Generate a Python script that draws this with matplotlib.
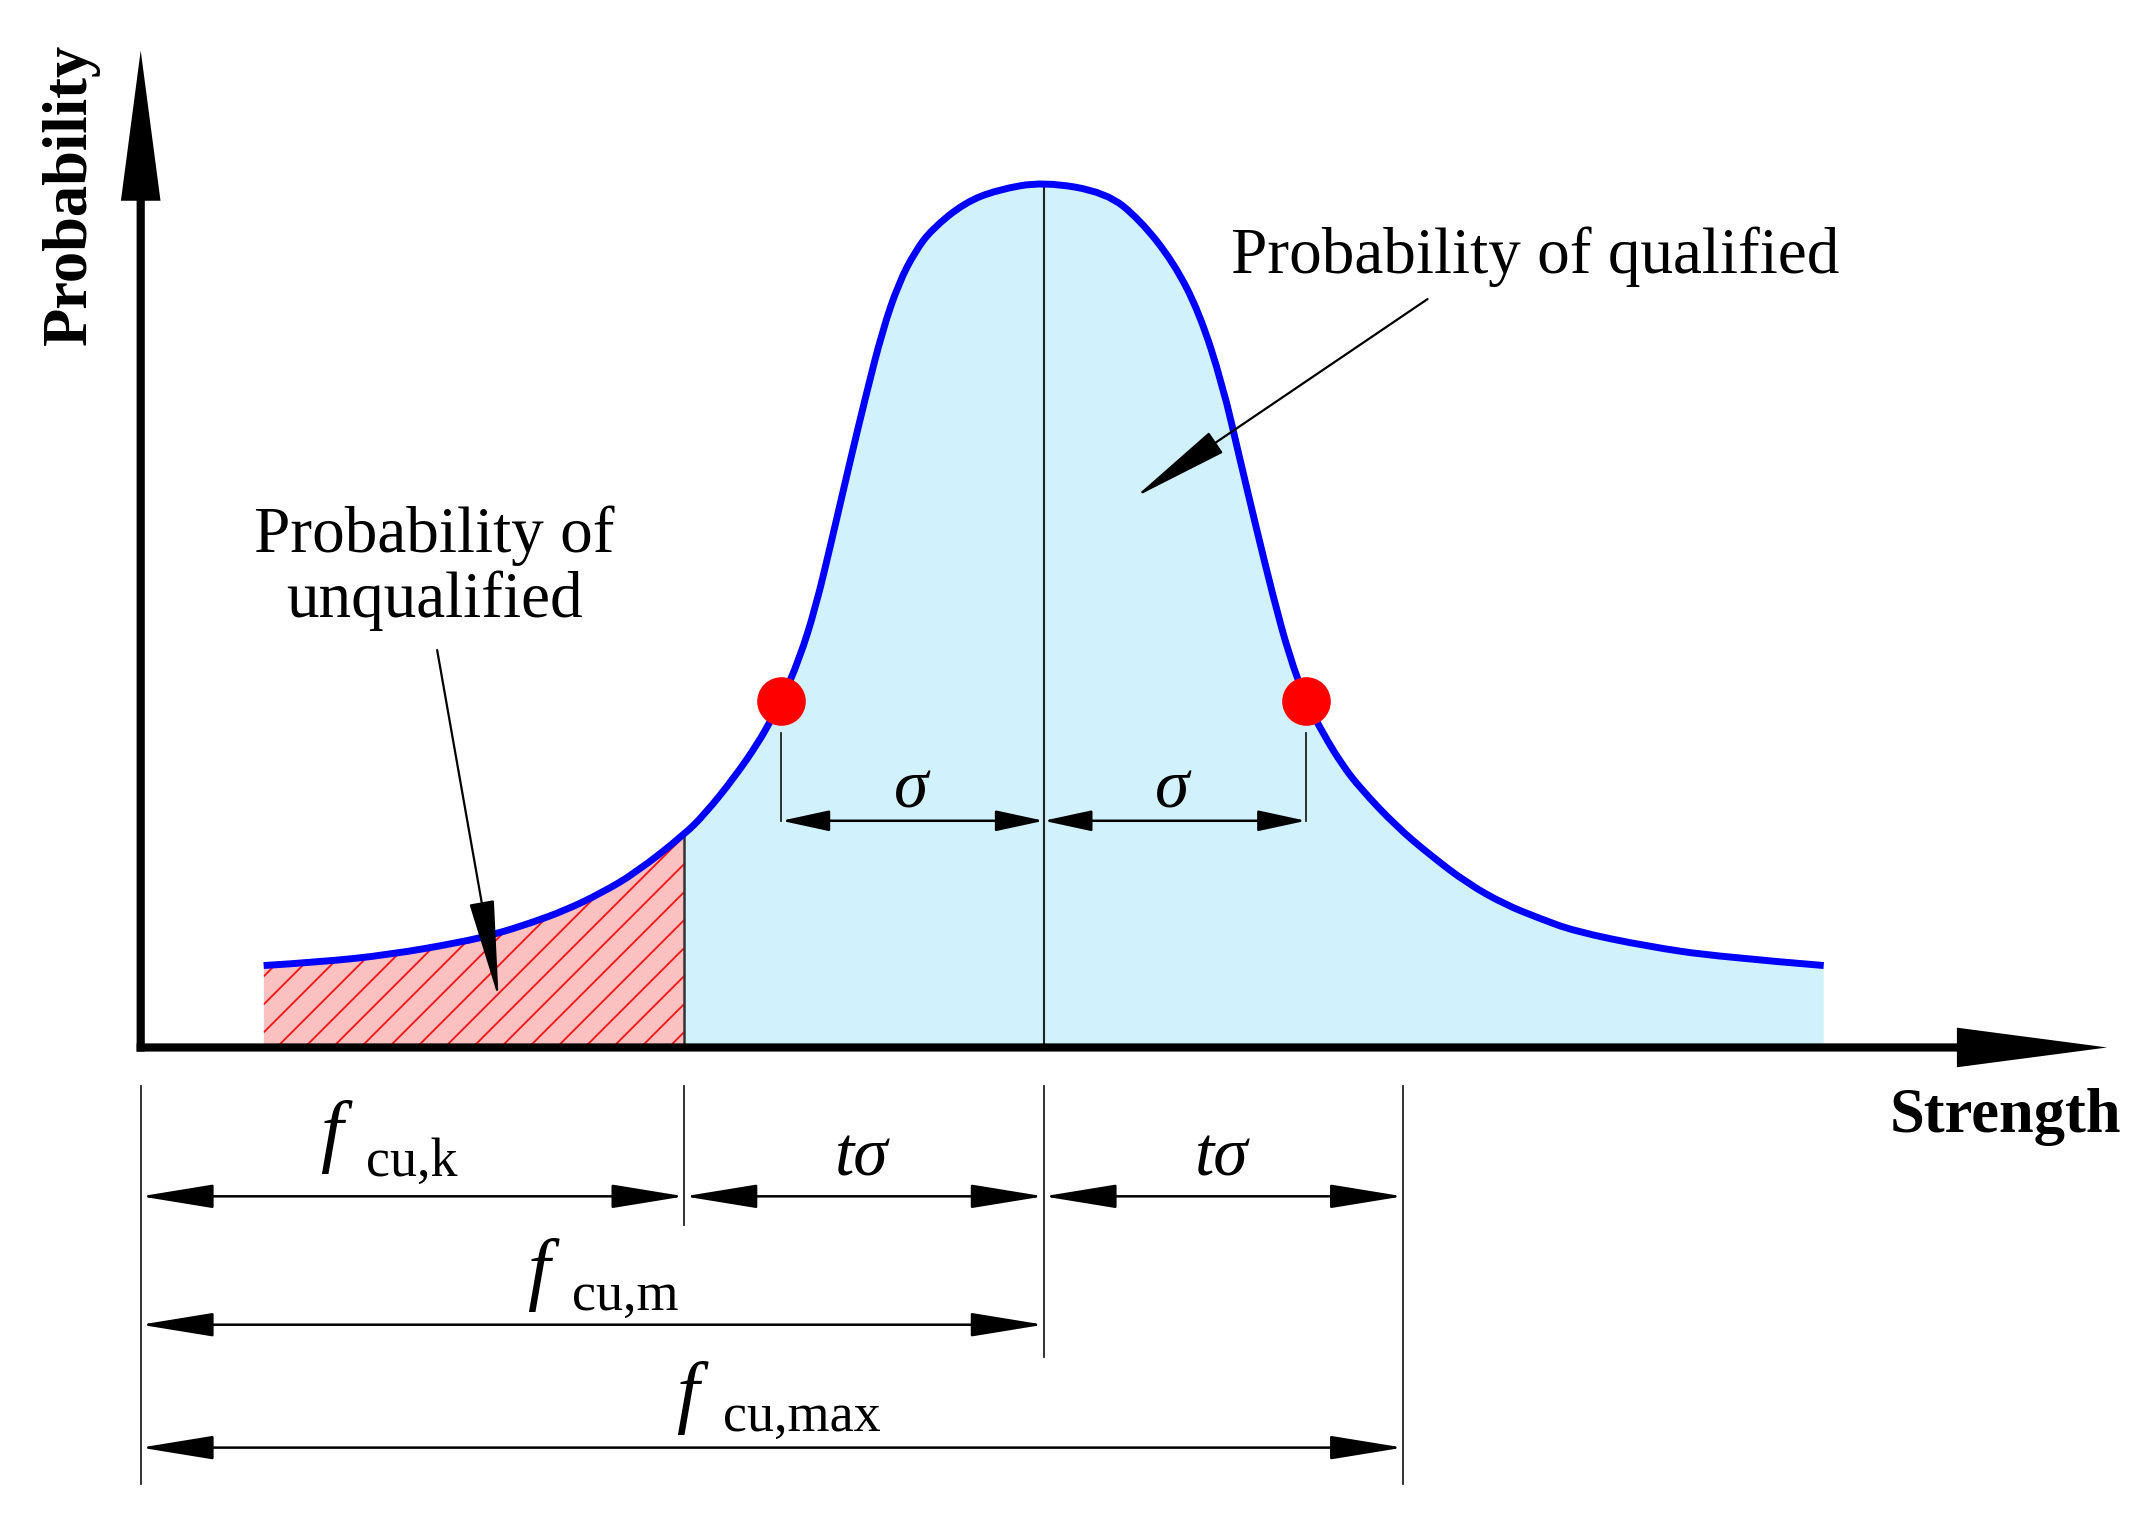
import numpy as np
import matplotlib
matplotlib.use("Agg")
import matplotlib.pyplot as plt
from matplotlib.patches import PathPatch
from matplotlib.path import Path

# ---------------- data (arbitrary strength / probability units) ----------------
left_strength = [90, 131, 182.5, 234, 259.6, 285, 311, 337, 362.5, 398, 413, 434, 452, 462, 469,
                 482, 494, 506, 518.5, 531, 543, 555, 567, 579, 603, 627, 661]
left_prob = [60, 62.5, 68, 77, 83, 91, 100.5, 113, 128, 156, 171, 197, 223, 241, 254,
             284, 322, 372, 426, 478, 525, 560, 583, 599, 618.5, 628, 634]
right_strength = [707, 731.5, 756, 775, 792, 804, 816.5, 829, 841, 853, 866, 879.5, 892.6, 919,
                  945, 971.5, 998, 1024, 1050, 1103, 1155, 1232]
right_prob = [626, 606, 575, 538, 485, 433.5, 381, 330, 286, 254, 229, 207, 190, 162,
              140, 120, 105, 94.5, 85, 74, 66.4, 60]

fcu_k = 398.0
fcu_m = 661.0
fcu_max = 924.0
sigma = 192.0
dot_strength = [fcu_m - sigma, fcu_m + sigma]
dot_prob = [254, 254]

x_axis_end = 1439.5
y_axis_end = 730.0

SERIF = "Liberation Serif"

x = np.array(left_strength + right_strength, dtype=float)
y = np.array(left_prob + right_prob, dtype=float)


def smooth_path(xs, ys, close=False):
    """Quadratic B-spline style path through the read points (library Bezier curves)."""
    P = np.column_stack([xs, ys])
    verts = [P[0]]
    codes = [Path.MOVETO]
    n = len(P)
    for i in range(1, n - 1):
        end = P[i + 1] if i == n - 2 else (P[i] + P[i + 1]) / 2
        verts += [P[i], end]
        codes += [Path.CURVE3, Path.CURVE3]
    if close:
        verts += [(P[-1][0], 0), (P[0][0], 0), P[0]]
        codes += [Path.LINETO, Path.LINETO, Path.CLOSEPOLY]
    return Path(np.array(verts), codes)


fig = plt.figure(figsize=(21.42, 15.20), dpi=100)
ax = fig.add_axes([0, 0, 1, 1])
ax.set_xlim(-103, 1465)
ax.set_ylim(-346, 767)
ax.axis("off")

# ---------------- fills ----------------
blue_fill = "#D1F2FC"
pink_fill = "#FBC1C1"
area = PathPatch(smooth_path(x, y, close=True), facecolor=blue_fill, edgecolor="none", zorder=1)
ax.add_patch(area)

pink = PathPatch(smooth_path(x, y, close=True), facecolor=pink_fill, edgecolor="none", zorder=1.5)
ax.add_patch(pink)
clip_rect = plt.Rectangle((x[0], -5), fcu_k - x[0], 800, transform=ax.transData)
pink.set_clip_path(clip_rect)

# hatch lines (45 deg) inside the unqualified region
area_clip = PathPatch(smooth_path(x, y, close=True), transform=ax.transData)
for c in np.arange(-700, fcu_k, 20.5):
    xa = max(c, x[0])
    xb = fcu_k
    if xb <= xa:
        continue
    ln, = ax.plot([xa, xb], [xa - c, xb - c], color="#FF1010", lw=1.3,
                  solid_capstyle="butt", zorder=2)
    ln.set_clip_path(area_clip)

# boundary line at fcu_k and centre line
ax.plot([fcu_k, fcu_k], [0, 156], color="#333333", lw=1.8, zorder=3)
ax.plot([fcu_m, fcu_m], [0, 634], color="#222222", lw=1.5, zorder=3)

# ---------------- curve and dots ----------------
ax.add_patch(PathPatch(smooth_path(x, y), facecolor="none", edgecolor="#0000FF", lw=5,
                       capstyle="butt", zorder=4))
ax.plot(dot_strength, dot_prob, "o", color="#FF0000", ms=35, mec="none", zorder=5)

# ---------------- axes arrows ----------------
ax.arrow(-3, 0, x_axis_end + 3, 0, width=6, head_width=29, head_length=110,
         length_includes_head=True, fc="k", ec="none", zorder=6)
ax.arrow(0, -3, 0, y_axis_end + 3, width=6, head_width=29, head_length=110,
         length_includes_head=True, fc="k", ec="none", zorder=6)

ax.text(-51, 625, "Probability", rotation=90, ha="center", va="center",
        fontsize=45, fontweight="bold", family=SERIF)
ax.text(1365, -51, "Strength", ha="center", va="center",
        fontsize=45, fontweight="bold", family=SERIF)


def dim(x0, x1, yy, hl, hw, lw=1.8):
    ax.annotate("", xy=(x1, yy), xytext=(x0, yy),
                arrowprops=dict(arrowstyle=f"<|-|>,head_length={hl},head_width={hw}",
                                color="k", lw=lw, shrinkA=0, shrinkB=0, mutation_scale=1),
                zorder=6)


# ---------------- sigma dimension ----------------
sig_y = 166
for xs in dot_strength:
    ax.plot([xs, xs], [sig_y, 230], color="#222222", lw=1.3, zorder=3)
dim(dot_strength[0], fcu_m, sig_y, 30, 6.5)
dim(fcu_m, dot_strength[1], sig_y, 30, 6.5)
ax.text(564, 176, "σ", ha="center", va="baseline", fontsize=50, style="italic", family=SERIF)
ax.text(755, 176, "σ", ha="center", va="baseline", fontsize=50, style="italic", family=SERIF)

# ---------------- strength dimensions below axis ----------------
ext_top = -28
for xs, yb in [(0, -320), (fcu_k, -130), (fcu_m, -227), (fcu_max, -320)]:
    ax.plot([xs, xs], [ext_top, yb], color="#222222", lw=1.3, zorder=3)

row1, row2, row3 = -109, -203, -293
dim(0, fcu_k, row1, 46, 7.5)
dim(fcu_k, fcu_m, row1, 46, 7.5)
dim(fcu_m, fcu_max, row1, 46, 7.5)
dim(0, fcu_m, row2, 46, 7.5)
dim(0, fcu_max, row3, 46, 7.5)

ax.text(528, -94, "tσ", ha="center", va="baseline", fontsize=50, style="italic", family=SERIF)
ax.text(791, -94, "tσ", ha="center", va="baseline", fontsize=50, style="italic", family=SERIF)


def flabel(fx, fbase, sx, sbase, sub):
    ax.text(fx, fbase, "f", ha="left", va="baseline", fontsize=58, style="italic", family=SERIF)
    ax.text(sx, sbase, sub, ha="left", va="baseline", fontsize=39, family=SERIF)


flabel(131, -80, 165, -94, "cu,k")
flabel(283, -181, 316, -192, "cu,m")
flabel(392, -271, 426, -281, "cu,max")

# ---------------- annotations ----------------
ax.text(1021, 579, "Probability of qualified", ha="center", va="center",
        fontsize=47, family=SERIF)
ax.annotate("", xy=(728, 403), xytext=(942, 548),
            arrowprops=dict(arrowstyle="-|>,head_length=63,head_width=8",
                            color="k", lw=1.6, shrinkA=0, shrinkB=0, mutation_scale=1),
            zorder=6)

ax.text(215, 351, "Probability of\nunqualified", ha="center", va="center",
        fontsize=47, family=SERIF, linespacing=1.1)
ax.annotate("", xy=(262, 36), xytext=(217, 291),
            arrowprops=dict(arrowstyle="-|>,head_length=63,head_width=8",
                            color="k", lw=1.6, shrinkA=0, shrinkB=0, mutation_scale=1),
            zorder=6)

fig.savefig("out.png", dpi=100, facecolor="white")
